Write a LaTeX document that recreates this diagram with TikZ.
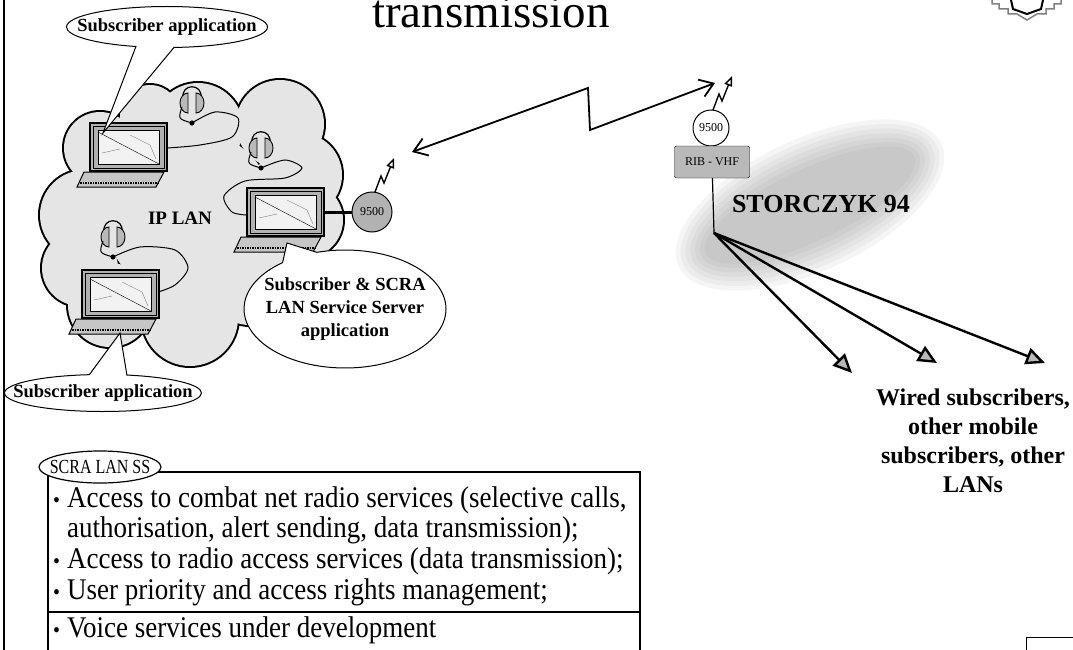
\documentclass[tikz,border=0pt]{standalone}
\usepackage{fontspec}
\setmainfont{Liberation Serif}
\newfontfamily\condensed[FakeStretch=0.8]{Liberation Serif}
\newfontfamily\narrowtext[FakeStretch=0.9]{Liberation Serif}
\usetikzlibrary{arrows.meta,shapes.geometric,shapes.callouts}

\tikzset{
  bubble/.style={ellipse callout,draw,fill=white,line width=1pt,inner xsep=-80pt,inner ysep=-30pt,
    font=\bfseries\fontsize{18.5}{23}\selectfont,align=center,callout pointer arc=22},
  radio/.style={circle,draw,line width=1pt,inner sep=0pt,font=\fontsize{12}{12}\selectfont},
  listline/.style={anchor=base west,inner sep=0pt,font=\narrowtext\fontsize{30}{31}\selectfont},
  fan/.style={line width=2.4pt,-{Triangle[length=19pt,width=17pt,fill=gray!55]}},
  barb/.tip={Straight Barb[length=13pt,width=18pt]}
}

% puffs of the LAN cloud: x/y/radius
\newcommand\puffs{100/148/36, 150/115/30, 198/128/45, 280/124/44, 300/175/42, 305/220/38,
  250/280/45, 190/318/48, 110/305/42, 80/268/38, 85/215/45, 190/215/85}
% laptop, #1,#2 = top left corner of the lid
\newcommand\laptop[2]{%
  \filldraw[fill=gray!45,line width=1pt] (#1-6,#2+49) -- (#1+74,#2+49) -- (#1+66,#2+64) -- (#1-13,#2+64) -- cycle;
  \draw[densely dotted,line width=1.5pt] (#1-10,#2+60) -- (#1+68,#2+60);
  \filldraw[fill=gray!60,line width=1.2pt] (#1,#2) rectangle (#1+77,#2+48);
  \draw[line width=0.8pt] (#1+3,#2+3) rectangle (#1+74,#2+45);
  \filldraw[fill=gray!10,line width=0.8pt] (#1+8,#2+7) rectangle (#1+69,#2+41);
  \draw[gray] (#1+40,#2+12) -- (#1+60,#2+22) -- (#1+66,#2+36) (#1+12,#2+30) -- (#1+30,#2+26);
  \draw (#1+8,#2+9) -- (#1+69,#2+41);
}
% headset, #1,#2 = middle of the band
\newcommand\headset[2]{%
  \draw[line width=1.2pt] (#1-9,#2-5) .. controls (#1-11,#2-20) and (#1+11,#2-20) .. (#1+9,#2-5);
  \filldraw[fill=gray!55,line width=0.9pt] (#1-4,#2+10) arc[start angle=90,end angle=270,x radius=8,y radius=10] -- cycle;
  \filldraw[fill=gray!55,line width=0.9pt] (#1+4,#2-10) arc[start angle=-90,end angle=90,x radius=8,y radius=10] -- cycle;
  \draw[line width=1pt] (#1-10,#2+4) .. controls (#1-14,#2+16) .. (#1,#2+20);
  \fill (#1,#2+20) circle (2.6);
}
% aerial with flash
\newcommand\antenna[2]{%
  \draw[line width=1.4pt,-{Triangle[open,length=10pt,width=8pt]}] (#1,#2) -- (#1+6,#2-16) -- (#1+9,#2-9) -- (#1+19,#2-34);
}
\newcommand\dotitem{\makebox[14pt][l]{\fontsize{22}{22}\selectfont\textbullet}}

\begin{document}
\begin{tikzpicture}[x=1pt,y=-1pt]
\useasboundingbox (0,0) rectangle (1073,650);
\clip (0,0) rectangle (1073,650);

% frame, corner logo, title
\draw[line width=2pt] (4,0) -- (4,650);
\draw[gray,line width=1.5pt] (992,0) -- (992,4) -- (999,4) -- (999,9) -- (1008,9) -- (1008,14) -- (1017,14)
  -- (1027,20) -- (1037,14) -- (1046,14) -- (1046,9) -- (1054,9) -- (1054,4) -- (1061,4) -- (1061,0);
\draw[line width=2pt] (1011,0) -- (1013,9) -- (1027,14) -- (1041,9) -- (1043,0);
\draw[line width=1pt] (1026,637) rectangle (1090,670);
\node[anchor=base west,inner sep=0pt,font=\fontsize{47}{47}\selectfont] (title) at (372,28) {transmission};

% IP LAN cloud
\foreach \cx/\cy/\r in \puffs \draw[line width=4pt] (\cx,\cy) circle (\r);
\foreach \cx/\cy/\r in \puffs \fill[gray!20] (\cx,\cy) circle (\r);

% headset cables
\draw[line width=1pt] plot[smooth] coordinates {(192,123) (215,112) (238,118) (232,137) (200,145) (167,148)};
\draw[line width=1pt] plot[smooth] coordinates {(261,168) (285,160) (302,168) (285,178) (245,181) (224,196) (232,212) (247,215)};
\draw[line width=1pt] plot[smooth] coordinates {(113,257) (140,247) (175,250) (188,268) (175,285) (155,293)};

\laptop{90}{123}
\laptop{247}{188}
\laptop{82}{270}
\headset{192}{103}
\headset{261}{148}
\headset{113}{237}
\node[font=\bfseries\fontsize{19}{19}\selectfont] (lan) at (180,218) {IP LAN};

% server radio
\coordinate (srv) at (324,212);
\node[radio,fill=gray!60,minimum size=40pt] (radleft) at (372,212) {9500};
\draw[line width=3pt] (srv) -- (radleft);
\antenna{375}{192}

% callouts
\coordinate (l1tip) at (103,133);
\coordinate (l2tip) at (287,243);
\coordinate (l3tip) at (120,333);
\node[bubble,minimum width=201pt,minimum height=41pt,callout absolute pointer={(l1tip)}] (topcall) at (167,27) {Subscriber application};
\node[bubble,minimum width=197pt,minimum height=37pt,callout absolute pointer={(l3tip)}] (botcall) at (103,393) {Subscriber application};
\node[bubble,minimum width=202pt,minimum height=118pt,callout absolute pointer={(l2tip)}] (srvcall) at (345,309)
  {Subscriber \& SCRA\\LAN Service Server\\application};

% STORCZYK station
\foreach \k in {0,...,6}
  \fill[gray,opacity=0.08,rotate around={25:(810,205)}] (810,205) ellipse ({145-5*\k} and {66-5*\k});
\node[font=\bfseries\fontsize{26}{26}\selectfont] (storcz) at (821,204) {STORCZYK 94};
\node[radio,fill=white,minimum size=36pt] (radright) at (711,128) {9500};
\antenna{713}{110}
\node[draw,fill=gray!55,rounded corners=2pt,minimum width=75pt,minimum height=32pt,inner sep=0pt,
  font=\fontsize{12}{12}\selectfont] (rib) at (712,162) {RIB - VHF};

% radio link
\coordinate (lnkA) at (412,152);
\coordinate (lnkB) at (715,83);
\draw[line width=1.8pt,{barb}-{barb}] (lnkA) -- (588,88) -- (590,130) -- (lnkB);

% wired subscribers
\coordinate (hub) at (714,233);
\coordinate (wa) at (852,373);
\coordinate (wb) at (937,363);
\coordinate (wc) at (1045,363);
\draw[line width=1.2pt] (rib) -- (hub);
\draw[fan] (hub) -- (wa);
\draw[fan] (hub) -- (wb);
\draw[fan] (hub) -- (wc);
\node[anchor=north,align=center,font=\bfseries\fontsize{24}{29}\selectfont] (wired) at (973,385)
  {Wired subscribers,\\other mobile\\subscribers, other\\LANs};

% SCRA LAN SS services
\draw[line width=1.4pt] (48,660) -- (48,472) -- (640,472) -- (640,660) (48,612) -- (640,612);
\node[ellipse,draw,fill=white,line width=1.2pt,minimum width=122pt,minimum height=32pt,inner xsep=-40pt,inner ysep=-12pt,
  font=\condensed\fontsize{20}{20}\selectfont] (sslabel) at (100,467) {SCRA LAN SS};
\node[listline] (s1) at (53,507) {\dotitem Access to combat net radio services (selective calls,};
\node[listline] (s2) at (67,537) {authorisation, alert sending, data transmission);};
\node[listline] (s3) at (53,568) {\dotitem Access to radio access services (data transmission);};
\node[listline] (s4) at (53,599) {\dotitem User priority and access rights management;};
\node[listline] (s5) at (53,637) {\dotitem Voice services under development};
\end{tikzpicture}
\end{document}
